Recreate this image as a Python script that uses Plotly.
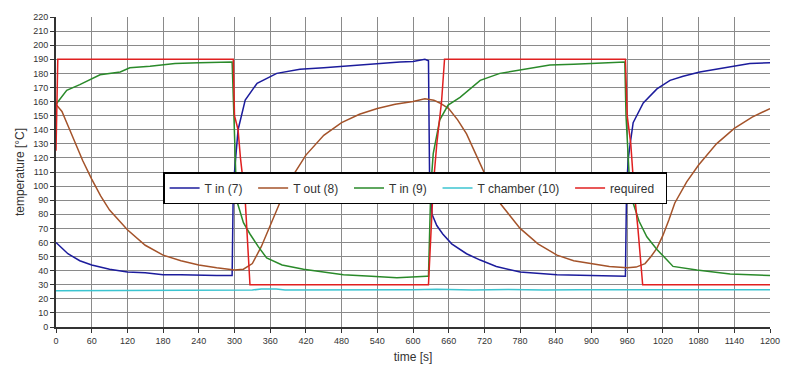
import plotly.graph_objects as go

# ---- data ----
t_in7_t = [0, 10, 20, 40, 60, 90, 120, 150, 180, 210, 240, 270, 296,
           298, 301, 306, 318, 338, 371, 410, 450, 494, 540, 578, 600, 620, 626,
           628, 632, 640, 650, 665, 690, 713, 740, 780, 842, 900, 957,
           959, 962, 965, 970, 987, 1010, 1032, 1054, 1082, 1110, 1138, 1166, 1200]
t_in7_v = [60, 56, 52, 47, 44, 41, 39, 38.5, 37, 37, 36.5, 36.5, 36.5,
           100, 115, 140, 161, 173, 180, 183, 184, 185.5, 187, 188, 188.5, 190, 189,
           100, 80, 72, 66, 59, 52, 47.5, 43, 39, 37, 36.5, 36,
           100, 120, 130, 145, 159, 169, 175, 178, 181, 183, 184.5, 187, 187.5]

t_out8_t = [0, 10, 20, 30, 45, 60, 75, 90, 120, 150, 180, 210, 240, 270, 300, 315,
            330, 345, 360, 375, 390, 420, 450, 480, 510, 540, 570, 600, 620, 635, 645,
            660, 675, 690, 710, 730, 746, 780, 810, 842, 870, 898, 930, 960, 975,
            990, 1000, 1010, 1020, 1030, 1040, 1060, 1080, 1110, 1140, 1170, 1200]
t_out8_v = [158, 153, 143, 133, 118, 105, 93, 83, 69, 58, 51, 47, 44, 42, 40.5, 41,
            45, 57, 72, 88, 102, 122, 136, 145, 151, 155, 158, 160, 162, 161, 159,
            155, 147, 137, 119, 100, 88, 70, 59, 51, 47, 45, 43, 42, 42.5,
            45, 50, 56, 65, 76, 88, 103, 115, 130, 141, 149, 155]

t_in9_t = [0, 18, 40, 74, 108, 124, 158, 200, 240, 270, 296,
           299, 302, 305, 315, 326, 340, 354, 380, 416, 450, 483, 530, 573, 623, 626,
           630, 634, 645, 659, 679, 713, 746, 802, 830, 870, 914, 956,
           958, 963, 970, 980, 993, 1010, 1027, 1037, 1077, 1133, 1200]
t_in9_v = [158, 168, 172, 179, 181, 184, 185, 187, 187.5, 188, 188,
           150, 110, 88, 74, 66, 57, 49, 44, 41, 39, 37, 36, 35, 36, 36,
           100, 123, 147, 157.5, 163, 175, 180, 184, 186, 186.5, 187, 188,
           150, 110, 88, 75, 64, 55, 47.5, 43, 40.5, 37.6, 36.5]

t_ch10_t = [0, 100, 200, 300, 330, 345, 370, 385, 450, 520, 560, 600, 640, 700,
            760, 820, 880, 940, 1000, 1060, 1120, 1200]
t_ch10_v = [25.8, 25.8, 25.8, 25.9, 26.2, 27, 27, 26.3, 26.2, 26.6, 26.2, 26.5, 26.8,
            26.3, 26.6, 26.2, 26.5, 26.3, 26.6, 26.4, 26.5, 26.5]

req_t = [0, 3, 298, 300, 306, 310, 318, 322, 326, 626, 629, 634, 640, 648, 653,
         957, 960, 966, 971, 978, 986, 1200]
req_v = [125, 190, 190, 150, 140, 120, 90, 60, 30, 30, 60, 100, 130, 160, 190,
         190, 150, 130, 100, 70, 30, 30]

series = [
    ("T in (7)", t_in7_t, t_in7_v, "#1c1c9c"),
    ("T out (8)", t_out8_t, t_out8_v, "#a4532a"),
    ("T in (9)", t_in9_t, t_in9_v, "#2a8a2a"),
    ("T chamber (10)", t_ch10_t, t_ch10_v, "#3cc4d0"),
    ("required", req_t, req_v, "#e02020"),
]

x_ticks = list(range(0, 1201, 60))
y_ticks = list(range(0, 221, 10))

PAD = "\u00a0\u2009"  # small trailing gap so the legend entries spread like the original

fig = go.Figure()
for name, xs, ys, col in series:
    fig.add_trace(go.Scatter(x=xs, y=ys, name=name + PAD, mode="lines",
                             line=dict(color=col, width=1.5)))

FONT = "Liberation Sans, Arial"
axis_common = dict(showgrid=True, gridcolor="#8a8a8a", gridwidth=1,
                   showline=True, linecolor="#333333", linewidth=2,
                   ticks="outside", ticklen=4, tickcolor="#333333",
                   tickfont=dict(family=FONT, size=9, color="#333333"),
                   zeroline=False, automargin=False)

fig.update_xaxes(range=[0, 1200], tickvals=x_ticks, **axis_common,
                 title=dict(text="time [s]", font=dict(family=FONT, size=12, color="#333333"),
                            standoff=8))
fig.update_yaxes(range=[0, 220], tickvals=y_ticks, **axis_common,
                 title=dict(text="temperature [°C]", font=dict(family=FONT, size=12, color="#333333"),
                            standoff=6))

fig.update_layout(
    width=801, height=385,
    margin=dict(l=56, r=31, t=17, b=58),
    paper_bgcolor="white", plot_bgcolor="white",
    showlegend=True,
    legend=dict(orientation="h", x=0.15, y=0.5, xanchor="left", yanchor="top",
                bgcolor="white", bordercolor="black", borderwidth=1.5,
                font=dict(family=FONT, size=12, color="#333333"),
                itemwidth=30),
)

fig.write_html("out.html", config={"displayModeBar": False},
               post_script="document.body.style.margin='0';document.body.style.overflow='hidden';")
